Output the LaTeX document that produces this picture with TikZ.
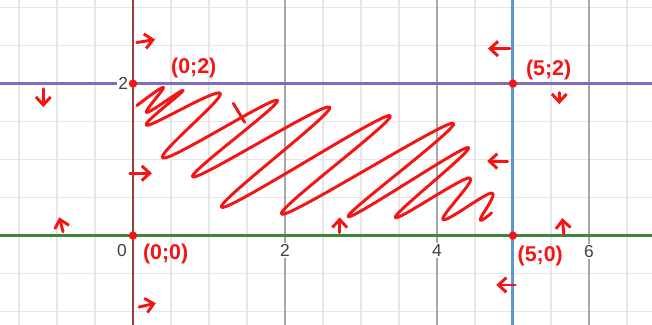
\documentclass[tikz,border=0pt]{standalone}
\usepackage{fontspec}
\setsansfont{Liberation Sans}
\usetikzlibrary{arrows.meta}
\definecolor{gridminor}{HTML}{E6E6E6}
\definecolor{gridmajor}{HTML}{A8A8A8}
\definecolor{linegreen}{HTML}{3C873C}
\definecolor{linepurple}{HTML}{7E6CC0}
\definecolor{linebrown}{HTML}{963F3F}
\definecolor{lineblue}{HTML}{5C96CE}
\definecolor{pen}{HTML}{F51414}

\begin{document}
\begin{tikzpicture}[scale=1.0,>={Straight Barb[length=3pt,width=5.5pt]},
    scrawl/.style={draw=pen,line width=1.1pt,line cap=round,line join=round},
    ticklab/.style={font=\sffamily\fontsize{6.5}{7}\selectfont,text=black!75,fill=white,inner sep=0.6pt},
    ptlab/.style={font=\sffamily\bfseries\fontsize{8}{9}\selectfont,text=pen,inner sep=0pt}]
      \useasboundingbox (-1.75,-1.165) rectangle (6.83,3.1);
      \clip (-1.75,-1.165) rectangle (6.83,3.1);
      \fill[white] (-1.75,-1.165) rectangle (6.83,3.1);
      \draw[gridminor,line width=0.6pt,step=0.5] (-2,-1.5) grid (7,3.5);
      \foreach \x in {2,4,6} \draw[gridmajor,line width=0.6pt] (\x,-1.5) -- (\x,3.5);
      \draw[linegreen,line width=1.1pt] (-2,0) -- (7,0);
      \draw[linepurple,line width=1.1pt] (-2,2) -- (7,2);
      \draw[linebrown,line width=1.1pt] (0,-1.5) -- (0,3.5);
      \draw[lineblue,line width=1.1pt] (5,-1.5) -- (5,3.5);
      \node[ticklab] (t0) at (-0.145,-0.2) {0};
      \node[ticklab] (t2) at (2,-0.2) {2};
      \node[ticklab] (t4) at (4,-0.2) {4};
      \node[ticklab] (t6) at (6,-0.21) {6};
      \node[ticklab] (ty2) at (-0.13,2) {2};
      \foreach \p/\q in {0/0,0/2,5/0,5/2} \fill[pen] (\p,\q) circle (0.055);
      \node[ptlab] (p02) at (0.80,2.21) {(0;2)};
      \node[ptlab] (p52) at (5.47,2.18) {(5;2)};
      \node[ptlab] (p00) at (0.43,-0.24) {(0;0)};
      \node[ptlab] (p50) at (5.36,-0.27) {(5;0)};
      % shaded region
      \draw[scrawl] plot[smooth,tension=0.65] coordinates {(0.05,1.71) (0.40,1.95) (0.18,1.62)
        (0.66,1.91) (0.18,1.45) (1.15,1.87) (0.40,1.02) (1.90,1.78) (0.79,0.77) (2.59,1.69)
        (1.17,0.37) (3.38,1.58) (1.96,0.28) (4.21,1.48) (2.83,0.25) (4.41,1.16) (3.45,0.24)
        (4.43,0.76) (4.08,0.21) (4.72,0.56) (4.57,0.21) (4.72,0.30)};
      \draw[scrawl] (1.32,1.74) -- (1.47,1.49);
      % direction marks
      \draw[scrawl,->] (0.05,2.54) -- (0.29,2.58);
      \draw[scrawl,->] (-1.18,1.93) -- (-1.18,1.69);
      \draw[scrawl,->] (-0.04,0.82) -- (0.25,0.82);
      \draw[scrawl,->] (-0.92,0.05) -- (-0.97,0.24);
      \draw[scrawl,->] (0.08,-0.94) -- (0.30,-0.89);
      \draw[scrawl,->] (4.96,2.46) -- (4.67,2.46);
      \draw[scrawl,->] (5.61,1.88) -- (5.61,1.73);
      \draw[scrawl,->] (4.93,0.98) -- (4.66,0.98);
      \draw[scrawl,->] (2.72,0.04) -- (2.72,0.24);
      \draw[scrawl,->] (5.67,0.01) -- (5.65,0.23);
      \draw[scrawl,->] (5.03,-0.65) -- (4.78,-0.65);
    \end{tikzpicture}
\end{document}
